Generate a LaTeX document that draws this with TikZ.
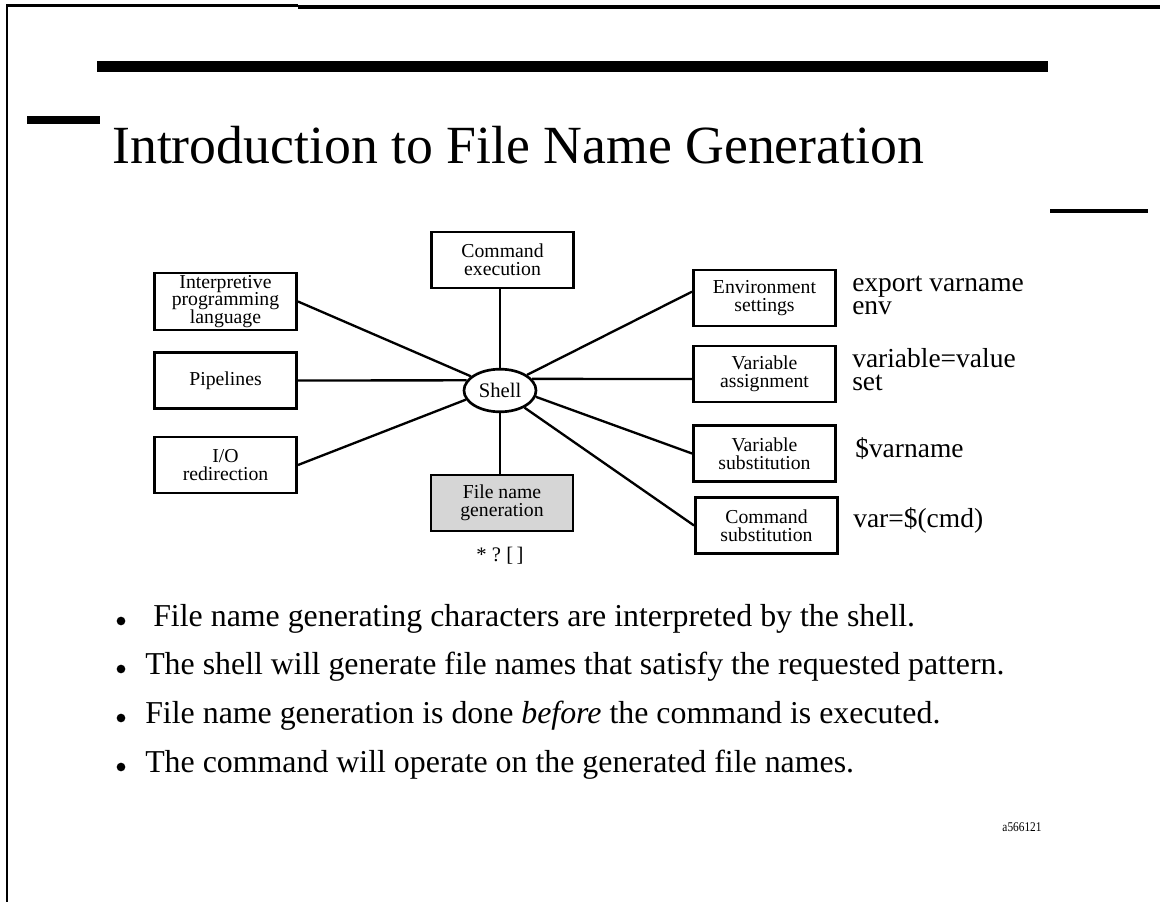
\documentclass[tikz,border=0pt]{standalone}
\usepackage{fontspec}
\setmainfont{Liberation Serif}
\usetikzlibrary{shapes.geometric}
% exact baseline spacing for stacked label lines
\newcommand{\tightlines}{\lineskiplimit=-20pt\relax}
\begin{document}
\begin{tikzpicture}[x=0.75pt,y=-0.75pt,
  stage/.style={draw, line width=2.2pt, minimum width=106.5pt, minimum height=42pt,
    inner sep=0pt, align=center,
    font={\fontsize{14.8}{13.2}\selectfont\tightlines}},
  hub/.style={draw, ellipse, line width=2pt, minimum width=54pt, minimum height=32pt,
    inner sep=0pt, font=\fontsize{15.5}{14}\selectfont},
  link/.style={line width=1.75pt},
  example/.style={anchor=base west, inner sep=0pt, align=left,
    font={\fontsize{20.6}{17.25}\selectfont\tightlines}},
  point/.style={anchor=base west, inner sep=0pt, font=\fontsize{23.9}{28}\selectfont},
  dot/.style={circle, fill, inner sep=0pt, minimum size=6.5pt}
]
\useasboundingbox (0,0) rectangle (1160,902);

% page frame and rules
\draw[line width=1.8pt] (7,902) -- (7,5.5) -- (298,5.5);
\fill (298,5) rectangle (1160,9);
\fill (97,61) rectangle (1048,72);
\fill (27,116) rectangle (100,124);
\fill (1050,209) rectangle (1148,213);

% title
\node[anchor=base west, inner sep=0pt, font=\fontsize{40.3}{44}\selectfont] (title) at (112,164)
  {Introduction to File Name Generation};

% shell and its functions
\node[hub] (shell) at (500,390.5) {Shell};
\node[stage, minimum height=42.75pt] (interp) at (225.5,301.5) {Interpretive\\programming\\language};
\node[stage] (pipe) at (225.5,380.5) {Pipelines};
\node[stage] (io) at (225.5,465) {I/O\\redirection};
\node[stage] (cmdexec) at (502.5,260) {Command\\execution};
\node[stage, fill=black!16] (fng) at (502,503) {File name\\generation};
\node[stage] (env) at (764.5,298) {Environment\\settings};
\node[stage] (vassign) at (764.5,374) {Variable\\assignment};
\node[stage] (vsubst) at (764.5,453.5) {Variable\\substitution};
\node[stage] (csubst) at (766.5,525.5) {Command\\substitution};

\node[inner sep=0pt, font=\fontsize{15.5}{14}\selectfont] (glob) at (500,556) {* ?\ [\,]};

% connectors
\draw[link] (interp.east) -- (shell.154);
\draw[link] (pipe.east) -- (shell.163);
\draw[link] (io.east) -- (shell.195);
\draw[link] (shell.north) -- (shell.north |- cmdexec.south);
\draw[link] (shell.south) -- (shell.south |- fng.north);
\draw[link] (shell.30) -- (env.175);
\draw[link] (shell.20) -- (vassign.184);
\draw[link] (shell.-10) -- (vsubst.west);
\draw[link] (shell.-35) -- (csubst.west);

% example commands (base anchor sits on the last line)
\node[example] (envex) at (852,315) {export varname\\env};
\node[example] (assignex) at (852,390) {variable=value\\set};
\node[example] (substex) at (855,457) {\$varname};
\node[example] (cmdex) at (853,527) {var=\$(cmd)};

% bullet points
\node[dot] (b1) at (121,621) {};
\node[point] (p1) at (153,626) {File name generating characters are interpreted by the shell.};
\node[dot] (b2) at (121,669) {};
\node[point] (p2) at (145,674) {The shell will generate file names that satisfy the requested pattern.};
\node[dot] (b3) at (121,718) {};
\node[point] (p3) at (145,723) {File name generation is done \textit{before} the command is executed.};
\node[dot] (b4) at (121,767) {};
\node[point] (p4) at (145,772) {The command will operate on the generated file names.};

% figure code
\node[inner sep=0pt, font=\fontsize{10}{12}\selectfont] (code) at (1022,827) {\scalebox{0.85}[1]{a566121}};
\end{tikzpicture}
\end{document}
